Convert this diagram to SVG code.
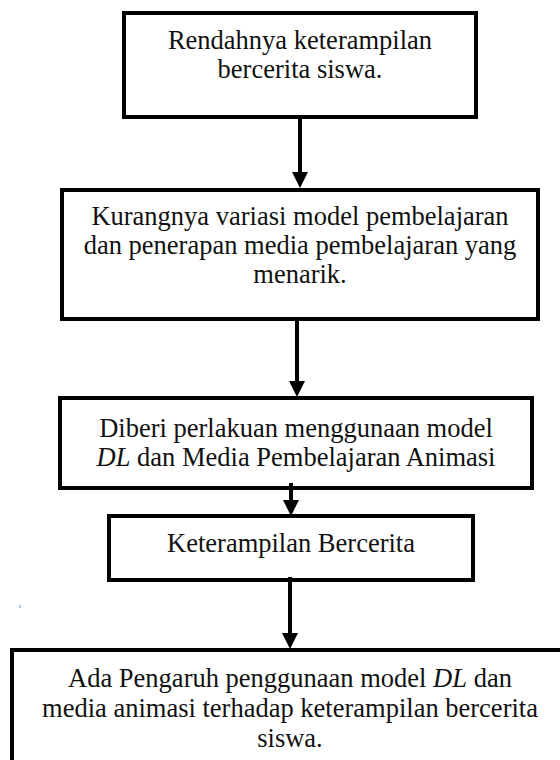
<svg xmlns="http://www.w3.org/2000/svg" width="560" height="760" viewBox="0 0 560 760">
  <style>
    .box { fill: #ffffff; stroke: #000000; stroke-width: 4; }
    .t { font-family: "Liberation Serif", "Times New Roman", serif; font-size: 26.5px; fill: #111111; text-anchor: middle; }
    .i { font-style: italic; }
    .conn { stroke: #000000; stroke-width: 4; fill: none; }
  </style>
  <defs>
    <marker id="ah" viewBox="0 0 16 16" refX="2" refY="8" markerWidth="16" markerHeight="16" markerUnits="userSpaceOnUse" orient="auto">
      <path d="M0,0 L16,8 L0,16 Z" fill="#000000"/>
    </marker>
  </defs>
  <rect width="560" height="760" fill="#ffffff"/>

  <g id="node1">
    <rect class="box" x="124" y="13" width="352" height="104"/>
    <text class="t" x="300" y="49">Rendahnya keterampilan</text>
    <text class="t" x="300" y="78">bercerita siswa.</text>
  </g>

  <g id="node2">
    <rect class="box" x="62" y="190" width="476" height="129"/>
    <text class="t" x="300" y="225">Kurangnya variasi model pembelajaran</text>
    <text class="t" x="300" y="254">dan penerapan media pembelajaran yang</text>
    <text class="t" x="300" y="283">menarik.</text>
  </g>

  <g id="node3">
    <rect class="box" x="60" y="398" width="472" height="90"/>
    <text class="t" x="296" y="437">Diberi perlakuan menggunaan model</text>
    <text class="t" x="296" y="466"><tspan class="i">DL</tspan> dan Media Pembelajaran Animasi</text>
  </g>

  <g id="node4">
    <rect class="box" x="109" y="516" width="364" height="64"/>
    <text class="t" x="291" y="552">Keterampilan Bercerita</text>
  </g>

  <g id="node5">
    <rect class="box" x="12" y="650" width="556" height="122"/>
    <text class="t" x="290" y="687">Ada Pengaruh penggunaan model <tspan class="i">DL</tspan> dan</text>
    <text class="t" x="290" y="717">media animasi terhadap keterampilan bercerita</text>
    <text class="t" x="290" y="747">siswa.</text>
  </g>

  <g id="connectors">
    <line class="conn" x1="300" y1="116" x2="300" y2="174" marker-end="url(#ah)"/>
    <line class="conn" x1="297" y1="319" x2="297" y2="383" marker-end="url(#ah)"/>
    <line class="conn" x1="291" y1="483" x2="291" y2="502" marker-end="url(#ah)"/>
    <line class="conn" x1="290" y1="577" x2="290" y2="635" marker-end="url(#ah)"/>
  </g>

  <rect x="19.5" y="605" width="1.2" height="3" fill="#7aa0d8"/>
</svg>
